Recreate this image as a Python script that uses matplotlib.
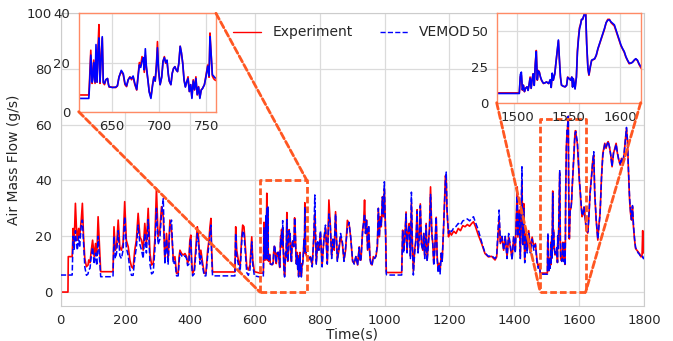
import matplotlib
matplotlib.use('Agg')
import matplotlib.pyplot as plt
import seaborn as sns
from matplotlib.patches import Rectangle, ConnectionPatch

sns.set_style('whitegrid')
plt.rcParams['font.family'] = ['DejaVu Sans']

time_s = [
    0, 23, 24, 36, 39, 42, 46, 49, 52, 56,
    59, 64, 67.5, 71, 75, 80, 85, 87, 91, 95,
    99, 104, 108, 112, 116, 121, 124, 162, 165, 169,
    173, 178, 183, 188, 193, 198, 203, 209, 214, 219,
    224, 229, 234, 239.5, 245, 250, 255, 260, 265, 270.5,
    276, 281, 286, 291, 296, 301, 306.5, 311.5, 317, 322,
    327, 332, 337.5, 342.5, 348, 353, 358, 363, 366, 368.5,
    373.5, 378.5, 384, 389, 392, 396, 399, 402, 404.5, 407.5,
    412.5, 417, 422, 425, 430, 433, 438.5, 443.5, 448.5, 454,
    458, 461, 464, 466, 469, 538, 540.5, 543.5, 548.5, 554,
    559, 562, 566, 571, 574.5, 579.5, 584.5, 590, 593, 598,
    615.3, 625.7, 626.4, 627.8, 629.2, 629.9, 630.9, 632.3, 633.3, 634.4,
    635.4, 636.4, 637.5, 638.5, 639.9, 641, 642.3, 643.7, 645.5, 646.5,
    647.2, 650.7, 654.1, 655.9, 657.6, 660, 662.1, 663.9, 665.6, 667.3,
    669.1, 670.8, 672.5, 674.3, 676.3, 677.7, 679.1, 680.5, 681.9, 683.3,
    684.3, 685.4, 686.4, 688.1, 689.5, 691.3, 693, 694.4, 695.8, 697.2,
    698.2, 699.3, 701, 702.7, 704.1, 705.5, 706.9, 708.3, 709.7, 710.7,
    712.4, 713.8, 715.2, 716.6, 718, 719.4, 720.8, 722.2, 723.5, 724.9,
    726.3, 727.7, 729.1, 730.5, 731.9, 733.3, 734.6, 736, 737.4, 738.8,
    740.2, 741.6, 743, 744.4, 745.8, 747.8, 749.6, 751.3, 752.7, 753.7,
    754.8, 756.2, 757.5, 758.5, 766, 771, 776.5, 781.5, 784.5, 789,
    793, 797, 802, 807, 812.5, 817.5, 823, 828, 832, 836.5,
    840.5, 844.5, 848.5, 854, 859, 864, 869.5, 874.5, 879.5, 885,
    890, 895, 901, 906, 911.5, 916.5, 921.5, 924, 927, 932,
    935, 938, 941, 944, 947.5, 950.5, 954.5, 957.5, 961, 965,
    969, 973, 977.5, 980.5, 983.5, 986.5, 989.5, 993, 996, 999,
    1003, 1005, 1007, 1052.5, 1055.5, 1058.5, 1062, 1066, 1069, 1072,
    1076, 1079.5, 1082.5, 1085.5, 1088.5, 1092.5, 1097, 1100, 1103, 1107,
    1110, 1113.5, 1117.5, 1120.5, 1123.5, 1128, 1131, 1134, 1138, 1141.5,
    1145.5, 1148.5, 1151.5, 1154.5, 1159, 1162, 1165, 1168, 1171, 1174.5,
    1177.5, 1181.5, 1184.5, 1187.5, 1190, 1192, 1194, 1197, 1200, 1206,
    1213, 1220, 1227, 1234, 1241, 1248, 1255, 1262, 1268.5, 1274,
    1280, 1289, 1299, 1309.5, 1320, 1330, 1340.5, 1345.5, 1353, 1357,
    1362, 1367, 1372, 1377.5, 1382.5, 1387.5, 1393, 1398, 1403, 1409,
    1411, 1415.5, 1418.5, 1423.5, 1426, 1429, 1432, 1436, 1439.5, 1444.5,
    1449.5, 1455, 1460, 1465, 1470, 1473.5, 1477.5, 1480, 1502, 1503,
    1504, 1505, 1506, 1507, 1508, 1509.5, 1510.5, 1511.5, 1512.5, 1513.5,
    1514.5, 1515.5, 1516.5, 1517.5, 1518.5, 1519.5, 1520.5, 1521.5, 1522.5, 1523.5,
    1524.5, 1525.5, 1527, 1528.5, 1530.5, 1532, 1533, 1534, 1535, 1536.5,
    1537.5, 1539, 1540, 1541, 1542, 1543, 1544.5, 1546.5, 1548, 1549,
    1550.5, 1552, 1553, 1553.8, 1554.5, 1555.3, 1556.2, 1557.5, 1558.5, 1559.5,
    1560.5, 1561.5, 1562.5, 1563.5, 1565, 1566.5, 1567.5, 1568.7, 1569.7, 1571,
    1572.3, 1573.6, 1575.2, 1576.8, 1578.4, 1580, 1581.6, 1583.2, 1584.8, 1586.4,
    1588, 1589.6, 1591.2, 1592.8, 1594.4, 1596, 1597.6, 1599.2, 1600.8, 1602.4,
    1604, 1605.6, 1607.2, 1608.8, 1610.4, 1612, 1613.6, 1615.2, 1616.8, 1618.4,
    1622, 1626.5, 1629.5, 1633.5, 1638, 1642, 1645, 1648, 1652.5, 1657.5,
    1660.5, 1664.5, 1669, 1673, 1676, 1679, 1683, 1686.5, 1689.5, 1693.5,
    1697.5, 1701.5, 1706, 1710, 1714, 1718, 1722.5, 1726.5, 1730.5, 1734.5,
    1739, 1743, 1746, 1749, 1752, 1755.5, 1758.5, 1761.5, 1764.5, 1767.5,
    1771, 1774, 1778, 1782, 1786, 1791, 1794, 1796, 1798, 1800,
]

experiment = [
    0, 0, 12.7, 12.7, 22.8, 17, 31.8, 23.4, 18.6, 22.8,
    19.8, 25.8, 31.8, 20, 12, 9.1, 9.7, 11.5, 10.5, 15,
    18.6, 12.7, 17.4, 13, 27, 15, 7.3, 7.3, 23.4, 15,
    16.2, 25.8, 16.2, 15, 17.4, 32.4, 18.6, 16.2, 11.5, 9.1,
    8.5, 15, 18.6, 28.2, 19.8, 18.6, 15, 24.6, 17.4, 30,
    13.8, 9.7, 10.3, 18.6, 37.2, 19.8, 22.2, 30.6, 27, 11.5,
    21, 11.5, 25.8, 22, 11.5, 12.7, 6.7, 6.7, 12.7, 15,
    13.8, 13.3, 13.8, 12.7, 10.3, 11.5, 18.6, 20.4, 11.5, 6.7,
    7.9, 15, 23.4, 21, 11.5, 15, 10.3, 6.7, 6.7, 15,
    18.6, 23.4, 26.4, 16.2, 7.2, 7.2, 23.4, 15, 11.5, 9.1,
    19.8, 24, 23.4, 15, 9.1, 7.9, 9.7, 19.8, 11.5, 7.3,
    6.8, 6.8, 12, 25, 11.5, 14.2, 21, 11.5, 24, 12,
    26, 35.4, 11.5, 21, 30, 11.7, 11, 13, 13.5, 11,
    10, 10, 9.8, 10.5, 14.2, 16.4, 15, 11, 10.2, 13,
    14.2, 13, 14.2, 11, 8.8, 14.8, 20, 18.7, 22.4, 21,
    16, 23, 18, 13, 8.2, 6, 11, 14.2, 12.4, 19.7,
    28.5, 16.5, 11, 14.2, 20.5, 22.4, 19.7, 20.4, 15.1, 12.4,
    11, 15.6, 17.6, 18.3, 17, 16.3, 19.7, 26.6, 23.9, 19.7,
    13, 10.2, 12, 14.2, 8.2, 11, 5.8, 13, 8.8, 14.2,
    6.8, 10.2, 5.8, 8.8, 9.5, 11, 15.1, 19, 14, 32,
    23.9, 14.5, 13.5, 13, 11.5, 12.7, 9.7, 19.8, 28, 10.3,
    17.4, 15, 21, 9.7, 18.6, 23.1, 10.3, 33, 24.6, 12.7,
    18.6, 15, 28.8, 11.5, 15, 19.8, 17.4, 11.5, 15, 25.7,
    24.6, 19.8, 11, 10.3, 12.7, 9.7, 16.2, 11.5, 11.5, 22.2,
    24.6, 33, 21, 25.8, 15, 23.4, 12.7, 10.3, 9.7, 12.7,
    12.1, 12.7, 16.2, 30, 19.8, 27, 23.4, 34.2, 27, 37,
    21, 7.3, 7, 7, 22.2, 15, 18.6, 28.7, 15, 21,
    24.6, 12.7, 32, 17.4, 7.5, 15, 19.8, 29.5, 15, 20.4,
    31.6, 17.4, 15, 21, 12.7, 24.6, 11.5, 16.2, 22.2, 37.7,
    21, 17.4, 10.3, 15, 26.8, 12.7, 7.9, 10.3, 7.3, 13.8,
    11.5, 22.2, 31.6, 41.7, 40, 30, 25.8, 19.8, 21.6, 20.4,
    21.8, 21, 22.8, 22, 23.8, 23.4, 24.2, 23.6, 24.6, 25.2,
    23.5, 20.4, 17.4, 13.8, 12.6, 12.8, 11.5, 12.6, 26, 17.4,
    19.7, 15, 19.7, 12.6, 19.7, 16.2, 12, 19.7, 15, 37.7,
    19.7, 29.4, 12.6, 40, 17.4, 31.7, 11.5, 21, 15, 22,
    15, 19.7, 16.2, 17.4, 11.5, 9.1, 10, 6.8, 6.8, 18,
    19, 8.7, 12.2, 7.6, 9.9, 11, 8.7, 12.2, 17.8, 9.9,
    16.7, 20.1, 12.2, 27, 36.2, 15.6, 22.4, 21.2, 17.8, 15.6,
    14.4, 13.3, 13.8, 14.4, 13.3, 15.6, 10.6, 20.1, 15.6, 20.1,
    27, 36.2, 43, 29.3, 17.8, 12.2, 11.5, 11, 12.2, 17.8,
    16.7, 15.6, 17.8, 11, 16.7, 13.3, 9.9, 17.8, 36.2, 45.2,
    52.1, 54.4, 57.8, 57.8, 60.7, 63, 40.7, 23.5, 19, 24.7,
    29.3, 29.7, 30.4, 32.7, 37.2, 40.7, 44.1, 47.5, 51, 55.5,
    57.8, 57.8, 55.5, 54.4, 53.2, 49.8, 46.4, 43, 39.5, 37.2,
    35, 31.6, 29.3, 27, 27.4, 28.1, 29.3, 30.4, 29.3, 26.5,
    22, 21.1, 25.8, 35.3, 41.4, 47.3, 49, 35.3, 25.8, 18.6,
    23.4, 28.2, 41.4, 49.7, 51.5, 53.3, 51.5, 53.3, 53.9, 52,
    49.1, 44.9, 49.7, 51.5, 53.3, 49.7, 47.3, 45.5, 47.9, 46.1,
    49.7, 55.1, 58.6, 54.5, 43.7, 33, 28.2, 25.8, 30.6, 23.4,
    18.6, 15.6, 15, 14.4, 13.8, 12.6, 13.2, 22, 14, 20,
]

vemod = [
    6.1, 6.1, 6.1, 6.1, 20, 15, 22, 18, 15, 20,
    16, 24, 25.8, 18, 9, 6, 6.5, 8, 8.5, 13,
    16, 10, 14, 9.5, 20, 11, 5.5, 5.5, 20, 12,
    14, 22, 13, 12, 15, 27, 16, 13, 8, 6,
    6, 12, 16, 24, 17, 15, 12, 21, 14, 26,
    10, 6.5, 7, 15, 30, 17, 19, 28, 33.5, 10,
    19, 10, 24, 25.8, 10, 11, 5.8, 5.8, 11, 14,
    13, 12.5, 13, 12, 9.5, 10, 17, 19, 10, 5.8,
    6.5, 13, 21, 19, 10, 13, 9, 5.8, 5.8, 13,
    17, 21, 24, 14, 5.8, 5.8, 21, 13, 10, 7,
    18, 22, 21, 13, 7, 6, 8, 18, 10, 5.8,
    5.4, 5.4, 10, 23, 12, 13, 20, 12, 27.3, 12,
    24, 30, 12, 20, 30.5, 12, 11.5, 13, 13.5, 11,
    10.2, 9.8, 10, 10.5, 14, 16.8, 15.5, 11.5, 10.5, 13,
    14, 13.5, 14.5, 11.5, 9, 14, 19, 18, 20.5, 22,
    17, 25.6, 19, 13, 8, 5.4, 10.5, 14, 12.5, 19,
    26, 17.5, 11, 14, 20.5, 22, 20, 21, 15.1, 12.5,
    11, 15.6, 17.6, 18.3, 17, 16.3, 19.7, 26.6, 24, 19.7,
    12.8, 10, 12.2, 13.5, 8.2, 11, 5.4, 12.5, 9, 13.5,
    7, 10, 5.4, 8.8, 9.4, 11, 14.5, 18.5, 14.5, 30.5,
    24, 15, 14.5, 14, 12, 13, 9, 20, 34.8, 10,
    18, 15, 22, 9, 19, 24, 10, 28, 25, 12,
    19, 16, 28, 11, 16, 21, 18, 11, 16, 23,
    25, 20, 11.5, 10, 13, 9.5, 16, 11, 12, 22,
    25, 28, 21, 26, 15, 24, 12, 10, 9.5, 12.5,
    12, 13, 17, 30, 20, 26, 24, 34, 28, 39.5,
    20, 6.5, 6.1, 6.1, 22, 14, 19, 28, 14, 21,
    24, 12, 35.8, 17, 6.1, 14, 19, 29, 14, 20,
    31, 17, 15, 21, 12, 24, 11, 16, 22, 35,
    21, 17, 9.5, 15, 27, 12, 7, 10, 6.5, 14,
    11, 23, 32, 40, 43, 31, 26, 21, 22.5, 21.6,
    23, 23.5, 24.6, 24, 25.5, 25.8, 26.2, 25.5, 26.4, 27,
    25, 22.2, 18, 14, 12.8, 13, 12, 13, 29.4, 18,
    20, 15, 20, 12, 21, 17, 11.5, 20, 14, 36,
    20, 28, 12, 44.9, 17, 30, 10.5, 20, 14, 21,
    14, 19, 15, 17, 10.5, 8.5, 9.5, 6.4, 6.4, 19.5,
    21.2, 9, 12, 7.8, 10, 11, 8.5, 12.5, 17, 10,
    16, 20, 12, 26, 35.5, 16, 22, 21, 18, 16,
    14.5, 13.5, 13.8, 14.4, 13.3, 16, 10.6, 20.5, 15.6, 20.1,
    27, 36.5, 43.5, 30, 18, 12.2, 11.5, 11, 12, 17.5,
    16.7, 15.6, 17.8, 10.8, 16.7, 13.3, 9.5, 17.8, 35, 44,
    51, 54, 57.8, 57.8, 61, 63, 41, 24, 19.5, 25,
    29.5, 30, 30.4, 33, 37.5, 41, 44.5, 48, 51.5, 55.5,
    57.2, 57.5, 56, 55, 54, 50.5, 47, 43.5, 40, 37.5,
    35.5, 32, 29.5, 27.5, 27.4, 28, 29.5, 30.5, 29.5, 27,
    23, 21.5, 26, 35, 41, 47, 50.3, 36, 26, 19,
    23, 28, 41, 49, 51, 53, 52, 53, 54, 52,
    49, 45, 50, 51, 53, 50, 47, 46, 48, 46,
    50, 55, 59, 54, 44, 34, 29, 26, 31, 24,
    19, 16, 15, 14, 13.5, 12.5, 12.5, 12.8, 12, 12,
]

assert len(time_s) == len(experiment) == len(vemod), (len(time_s), len(experiment), len(vemod))

x_ticks = [0, 200, 400, 600, 800, 1000, 1200, 1400, 1600, 1800]
y_ticks = [0, 20, 40, 60, 80, 100]
zoom1_xlim = (615, 760)
zoom1_ylim = (0, 40)
zoom1_xticks = [650, 700, 750]
zoom1_yticks = [0, 20, 40]
zoom2_xlim = (1480, 1620)
zoom2_ylim = (0, 62)
zoom2_xticks = [1500, 1550, 1600]
zoom2_yticks = [0, 25, 50]

RED = '#ff0000'
BLUE = '#0000ff'
ORANGE = '#ff5722'
INSET_EDGE = '#ff8a65'
DASH = (0, (2.4, 1.1))

fig = plt.figure(figsize=(6.73, 3.41), dpi=100)
ax = fig.add_axes([0.0899, 0.1026, 0.867, 0.8593])
ax.plot(time_s, experiment, color=RED, lw=1.2, label='Experiment', zorder=2)
ax.plot(time_s, vemod, color=BLUE, lw=1.1, ls='--', label='VEMOD', zorder=3)
ax.set_xlim(0, 1800)
ax.set_ylim(-5, 100)
ax.set_xticks(x_ticks)
ax.set_yticks(y_ticks)
ax.tick_params(labelsize=9.5, pad=2.5, colors='.15')
ax.grid(color='.86', lw=0.9)
for s in ax.spines.values():
    s.set_color('.8')
ax.set_xlabel('Time(s)', fontsize=10, labelpad=0, color='.15')
ax.set_ylabel('Air Mass Flow (g/s)', fontsize=10, color='.15')
leg = ax.legend(loc='upper center', bbox_to_anchor=(0.5, 1.0), ncol=2,
                frameon=False, fontsize=10)
for t in leg.get_texts():
    t.set_color('.15')
for h in leg.get_lines():
    h.set_linewidth(1.0)

ax.add_patch(Rectangle((zoom1_xlim[0], zoom1_ylim[0]), zoom1_xlim[1] - zoom1_xlim[0],
                       zoom1_ylim[1] - zoom1_ylim[0], fill=False, ec=ORANGE, lw=2,
                       ls=DASH, zorder=6, joinstyle='round'))
ax.add_patch(Rectangle((zoom2_xlim[0], zoom2_ylim[0]), zoom2_xlim[1] - zoom2_xlim[0],
                       zoom2_ylim[1] - zoom2_ylim[0], fill=False, ec=ORANGE, lw=2,
                       ls=DASH, zorder=6, joinstyle='round'))

def make_inset(rect, xlim, ylim, xticks, yticks):
    ins = fig.add_axes(rect)
    ins.set_facecolor('white')
    ins.plot(time_s, experiment, color=RED, lw=1.2)
    ins.plot(time_s, vemod, color=BLUE, lw=1.2)
    ins.set_xlim(*xlim)
    ins.set_ylim(*ylim)
    ins.set_xticks(xticks)
    ins.set_yticks(yticks)
    ins.tick_params(labelsize=9.5, pad=2.5, colors='.15')
    ins.grid(color='.86', lw=0.9)
    for s in ins.spines.values():
        s.set_color(INSET_EDGE)
        s.set_linewidth(1.0)
    return ins

ins1 = make_inset([0.1169, 0.6724, 0.2040, 0.2886], zoom1_xlim, zoom1_ylim,
                  zoom1_xticks, zoom1_yticks)
ins2 = make_inset([0.7380, 0.6988, 0.2140, 0.2622], zoom2_xlim, zoom2_ylim,
                  zoom2_xticks, zoom2_yticks)

def connect(ins, pa, pb):
    cp = ConnectionPatch(xyA=pa, coordsA=ins.transData, xyB=pb, coordsB=ax.transData,
                         color=ORANGE, lw=2, ls=DASH, zorder=7)
    fig.add_artist(cp)

connect(ins1, (zoom1_xlim[0], zoom1_ylim[0]), (zoom1_xlim[0], zoom1_ylim[0]))
connect(ins1, (zoom1_xlim[1], zoom1_ylim[1]), (zoom1_xlim[1], zoom1_ylim[1]))
connect(ins2, (zoom2_xlim[0], zoom2_ylim[0]), (zoom2_xlim[0], zoom2_ylim[0]))
connect(ins2, (zoom2_xlim[1], zoom2_ylim[0]), (zoom2_xlim[1], zoom2_ylim[0]))

fig.savefig('out.png', dpi=100)
